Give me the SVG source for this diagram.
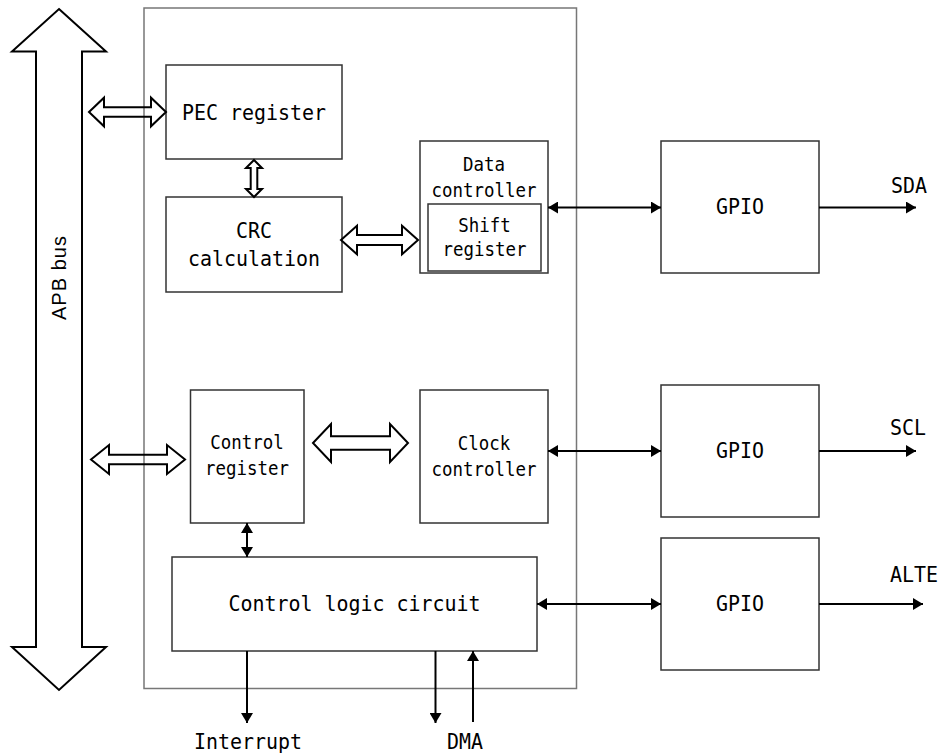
<svg xmlns="http://www.w3.org/2000/svg" width="943" height="755" viewBox="0 0 943 755">
<defs>
<style>
.box{fill:#fff;stroke:#333;stroke-width:1.5}
.outer{fill:none;stroke:#777;stroke-width:1.5}
.hollow{fill:none;stroke:#000;stroke-width:2;stroke-linejoin:miter}
.ln{fill:none;stroke:#000;stroke-width:2}
.t{font-family:"DejaVu Sans Mono","Liberation Mono",monospace;font-size:22px;fill:#000;text-anchor:middle}
.s{font-family:"DejaVu Sans Mono","Liberation Mono",monospace;font-size:19px;fill:#000;text-anchor:middle}
.bus{font-family:"Liberation Sans",Arial,sans-serif;font-size:20px;fill:#000;text-anchor:middle}
</style>
<marker id="ah" viewBox="0 0 10 12" refX="10" refY="6" markerWidth="10" markerHeight="12" markerUnits="userSpaceOnUse" orient="auto-start-reverse">
<path d="M0,0 L10,6 L0,12 z" fill="#000"/>
</marker>
</defs>
<rect width="943" height="755" fill="#fff"/>

<g id="apb-bus">
<polygon class="hollow" points="59,9 106,51.5 82,51.5 82,647 106,647 59,690 12,647 36,647 36,51.5 12,51.5"/>
<text class="bus" transform="translate(66,278) rotate(-90)" textLength="84" lengthAdjust="spacing">APB bus</text>
</g>

<g id="i2c-block">
<rect class="outer" x="144" y="8" width="432.5" height="680.5"/>
</g>

<g id="pec-register">
<rect class="box" x="166" y="65" width="176" height="94"/>
<text class="t" x="254" y="120" textLength="144" lengthAdjust="spacingAndGlyphs">PEC register</text>
</g>

<g id="crc-calculation">
<rect class="box" x="166" y="197" width="176" height="95"/>
<text class="t" x="254" y="238" textLength="36" lengthAdjust="spacingAndGlyphs">CRC</text>
<text class="t" x="254" y="265.5" textLength="132" lengthAdjust="spacingAndGlyphs">calculation</text>
</g>

<g id="data-controller">
<rect class="box" x="420" y="141" width="128" height="132"/>
<text class="s" x="484" y="171" textLength="42" lengthAdjust="spacingAndGlyphs">Data</text>
<text class="s" x="484" y="197" textLength="105" lengthAdjust="spacingAndGlyphs">controller</text>
</g>

<g id="shift-register">
<rect class="box" x="428" y="204" width="113" height="67"/>
<text class="s" x="484.5" y="232" textLength="52.5" lengthAdjust="spacingAndGlyphs">Shift</text>
<text class="s" x="484.5" y="256" textLength="84" lengthAdjust="spacingAndGlyphs">register</text>
</g>

<g id="gpio-sda">
<rect class="box" x="661" y="141" width="158" height="132"/>
<text class="t" x="740" y="214" textLength="48" lengthAdjust="spacingAndGlyphs">GPIO</text>
</g>

<g id="control-register">
<rect class="box" x="190.5" y="390" width="113.5" height="133"/>
<text class="s" x="247" y="449" textLength="73.5" lengthAdjust="spacingAndGlyphs">Control</text>
<text class="s" x="247" y="475" textLength="84" lengthAdjust="spacingAndGlyphs">register</text>
</g>

<g id="clock-controller">
<rect class="box" x="420" y="390" width="128" height="133"/>
<text class="s" x="484" y="450" textLength="52.5" lengthAdjust="spacingAndGlyphs">Clock</text>
<text class="s" x="484" y="476" textLength="105" lengthAdjust="spacingAndGlyphs">controller</text>
</g>

<g id="gpio-scl">
<rect class="box" x="661" y="385" width="158" height="132"/>
<text class="t" x="740" y="458" textLength="48" lengthAdjust="spacingAndGlyphs">GPIO</text>
</g>

<g id="control-logic">
<rect class="box" x="172" y="557" width="365" height="94"/>
<text class="t" x="354.5" y="611" textLength="252" lengthAdjust="spacingAndGlyphs">Control logic circuit</text>
</g>

<g id="gpio-alte">
<rect class="box" x="661" y="538" width="158" height="132"/>
<text class="t" x="740" y="611" textLength="48" lengthAdjust="spacingAndGlyphs">GPIO</text>
</g>

<g id="connectors">
<polygon class="hollow" points="89,112 104,97.7 104,107.3 151,107.3 151,97.7 166,112 151,126.3 151,116.7 104,116.7 104,126.3"/>
<polygon class="hollow" points="254,160 262,168 257.3,168 257.3,189 262,189 254,197 246,189 250.7,189 250.7,168 246,168"/>
<polygon class="hollow" points="341,240 357,225.7 357,235 402,235 402,225.7 418,240 402,254.3 402,245 357,245 357,254.3"/>
<polygon class="hollow" points="91,459.5 109,445 109,454.8 167,454.8 167,445 185,459.5 167,474 167,464.2 109,464.2 109,474"/>
<polygon class="hollow" points="313,443 331,424 331,436.3 390,436.3 390,424 408,443 390,462 390,449.7 331,449.7 331,462"/>
<line class="ln" x1="548" y1="207.5" x2="661" y2="207.5" marker-start="url(#ah)" marker-end="url(#ah)"/>
<line class="ln" x1="548" y1="451" x2="661" y2="451" marker-start="url(#ah)" marker-end="url(#ah)"/>
<line class="ln" x1="537" y1="604" x2="661" y2="604" marker-start="url(#ah)" marker-end="url(#ah)"/>
<line class="ln" x1="819" y1="207.5" x2="916" y2="207.5" marker-end="url(#ah)"/>
<line class="ln" x1="819" y1="451" x2="916" y2="451" marker-end="url(#ah)"/>
<line class="ln" x1="819" y1="604" x2="923" y2="604" marker-end="url(#ah)"/>
<line class="ln" x1="247" y1="523" x2="247" y2="557" marker-start="url(#ah)" marker-end="url(#ah)"/>
<line class="ln" x1="247" y1="651" x2="247" y2="723" marker-end="url(#ah)"/>
<line class="ln" x1="435.5" y1="651" x2="435.5" y2="723" marker-end="url(#ah)"/>
<line class="ln" x1="473" y1="722" x2="473" y2="651" marker-end="url(#ah)"/>
</g>

<g id="labels">
<text class="t" x="909" y="193" textLength="36" lengthAdjust="spacingAndGlyphs">SDA</text>
<text class="t" x="908" y="435" textLength="36" lengthAdjust="spacingAndGlyphs">SCL</text>
<text class="t" x="914" y="582" textLength="48" lengthAdjust="spacingAndGlyphs">ALTE</text>
<text class="t" x="248" y="749" textLength="108" lengthAdjust="spacingAndGlyphs">Interrupt</text>
<text class="t" x="465" y="749" textLength="36" lengthAdjust="spacingAndGlyphs">DMA</text>
</g>
</svg>
